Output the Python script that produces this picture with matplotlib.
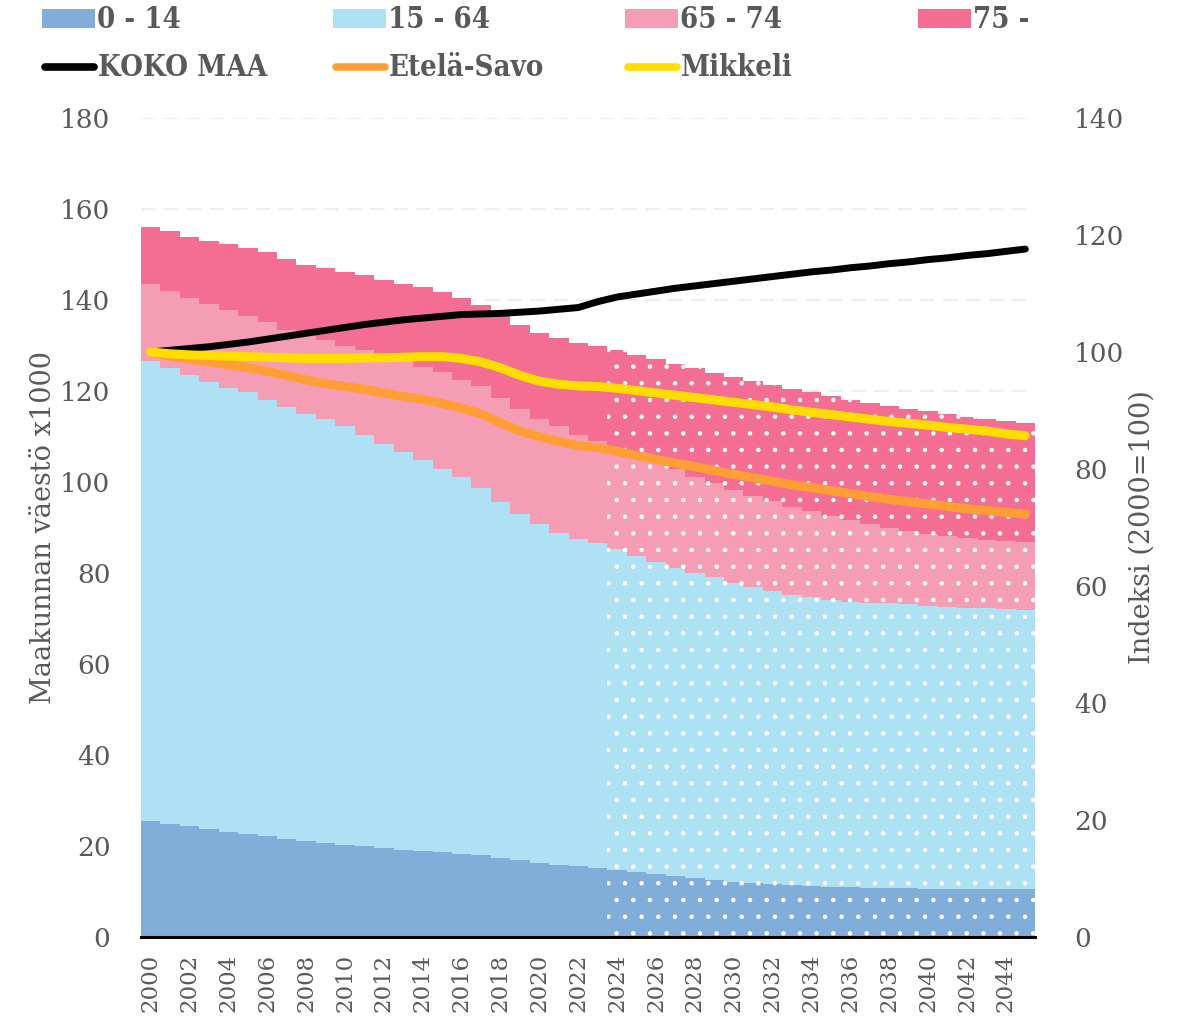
import numpy as np
import matplotlib
matplotlib.use("Agg")
import matplotlib.pyplot as plt
from matplotlib.patches import Rectangle
from matplotlib.lines import Line2D

# ---------------- data ----------------
years = list(range(2000, 2046))
first_forecast_year = 2024

age_groups = ["0 - 14", "15 - 64", "65 - 74", "75 -"]
age_0_14 = [25.5, 24.8, 24.3, 23.7, 23.1, 22.6, 22.2, 21.5, 21.1, 20.7, 20.2, 19.9, 19.5, 19.2, 18.9, 18.7,
            18.3, 18.0, 17.4, 16.9, 16.3, 15.8, 15.5, 15.2, 14.7, 14.3, 13.8, 13.5, 13.0, 12.5, 12.1, 11.8,
            11.6, 11.4, 11.1, 11.0, 10.9, 10.8, 10.7, 10.7, 10.6, 10.6, 10.5, 10.5, 10.5, 10.5]
age_15_64 = [101.1, 100.3, 99.2, 98.3, 97.5, 97.1, 95.8, 95.0, 93.9, 93.1, 92.0, 90.5, 88.9, 87.3, 85.9, 84.1,
             82.7, 80.6, 78.3, 76.1, 74.4, 73.1, 72.0, 71.3, 70.5, 69.5, 68.6, 67.7, 67.1, 66.6, 65.6, 65.1,
             64.4, 63.8, 63.6, 63.0, 62.8, 62.7, 62.6, 62.4, 62.2, 62.0, 61.9, 61.7, 61.5, 61.3]
age_65_74 = [16.9, 16.9, 16.9, 17.1, 17.2, 16.8, 17.2, 16.9, 17.3, 17.3, 17.7, 18.6, 19.5, 20.9, 20.5, 21.4,
             21.4, 22.4, 22.8, 23.0, 23.2, 23.4, 22.8, 22.6, 22.3, 22.7, 22.1, 21.6, 21.1, 20.7, 20.5, 20.0,
             19.8, 19.4, 18.9, 18.5, 17.9, 17.2, 16.6, 16.1, 15.8, 15.5, 15.3, 15.1, 15.0, 15.0]
age_75_plus = [12.6, 13.1, 13.5, 13.9, 14.4, 14.9, 15.3, 15.7, 15.5, 15.9, 16.2, 16.4, 16.4, 16.2, 17.5, 17.5,
               18.0, 17.9, 18.2, 18.4, 18.8, 19.3, 20.2, 20.8, 21.5, 21.5, 22.5, 23.1, 23.8, 24.2, 24.9, 25.3,
               25.5, 25.8, 26.1, 26.3, 26.5, 26.6, 26.8, 26.9, 26.9, 26.8, 26.6, 26.5, 26.4, 26.1]

index_names = ["KOKO MAA", "Etelä-Savo", "Mikkeli"]
koko_maa = [100.0, 100.3, 100.6, 100.9, 101.3, 101.7, 102.2, 102.7, 103.2, 103.7, 104.2, 104.7, 105.1, 105.5,
            105.8, 106.1, 106.4, 106.5, 106.6, 106.8, 107.0, 107.3, 107.6, 108.6, 109.4, 109.9, 110.4, 110.9,
            111.3, 111.7, 112.1, 112.5, 112.9, 113.3, 113.7, 114.0, 114.4, 114.7, 115.1, 115.4, 115.8, 116.1,
            116.5, 116.8, 117.2, 117.6]
etela_savo = [100.0, 99.3, 98.8, 98.3, 97.8, 97.3, 96.7, 96.0, 95.2, 94.6, 94.1, 93.6, 93.0, 92.4, 91.9, 91.2,
              90.4, 89.4, 87.9, 86.5, 85.5, 84.7, 84.0, 83.6, 83.0, 82.3, 81.6, 81.0, 80.4, 79.7, 79.1, 78.5,
              77.9, 77.3, 76.8, 76.3, 75.8, 75.3, 74.8, 74.4, 74.0, 73.6, 73.2, 72.9, 72.6, 72.3]
mikkeli = [100.0, 99.7, 99.5, 99.4, 99.3, 99.2, 99.1, 99.0, 98.9, 98.9, 98.9, 99.0, 99.0, 99.1, 99.2, 99.2,
           98.9, 98.3, 97.3, 96.0, 95.0, 94.5, 94.2, 94.1, 93.8, 93.4, 93.0, 92.6, 92.2, 91.8, 91.4, 91.0,
           90.6, 90.1, 89.7, 89.3, 88.9, 88.5, 88.1, 87.8, 87.5, 87.1, 86.8, 86.5, 86.0, 85.7]

left_ticks = list(range(0, 181, 20))
right_ticks = list(range(0, 141, 20))
x_tick_years = list(range(2000, 2045, 2))

# ---------------- style ----------------
W, H = 1186, 1017
area_colors = ["#80AED8", "#ADE1F3", "#F69DB6", "#F36E92"]
line_colors = ["#000000", "#FF9E35", "#FFDD00"]
line_widths = [5.0, 6.5, 6.5]
text_gray = "#595959"
serif = "DejaVu Serif"

plt.rcParams["hatch.color"] = "white"
plt.rcParams["hatch.linewidth"] = 0.8

fig = plt.figure(figsize=(W / 100, H / 100), dpi=100)
ax = fig.add_axes([141 / W, 1 - 937 / H, (1035 - 141) / W, (937 - 118) / H])

yrs = np.array(years, dtype=float)
layers = np.array([age_0_14, age_15_64, age_65_74, age_75_plus])
tops = np.cumsum(layers, axis=0)
bottoms = np.vstack([np.zeros(len(years)), tops[:-1]])
edges = np.append(yrs - 0.5, yrs[-1] + 0.5)
split = years.index(first_forecast_year)

for k in range(4):
    # observed part
    ax.stairs(tops[k][:split], edges[:split + 1], baseline=bottoms[k][:split],
              fill=True, color=area_colors[k], linewidth=0, zorder=2)
    # forecast part, dotted
    ax.stairs(tops[k][split:], edges[split:], baseline=bottoms[k][split:],
              fill=True, facecolor=area_colors[k], edgecolor="white",
              linewidth=0, hatch=".", zorder=2)

ax.set_xlim(yrs[0] - 0.5, yrs[-1] + 0.5)
ax.set_ylim(0, 180)
ax.set_yticks(left_ticks)
ax.set_xticks(x_tick_years)
ax.set_xticklabels([str(y) for y in x_tick_years], rotation=90)
ax.grid(axis="y", color="#EFEFEF", linestyle=(0, (7, 4)), linewidth=1.5, zorder=0)
ax.set_axisbelow(True)
for s in ["top", "right", "left"]:
    ax.spines[s].set_visible(False)
ax.spines["bottom"].set_linewidth(2.2)
ax.spines["bottom"].set_color("black")
ax.spines["bottom"].set_zorder(5)
ax.tick_params(axis="both", length=0, colors=text_gray)
ax.tick_params(axis="y", labelsize=19, pad=22)
ax.tick_params(axis="x", labelsize=16.5, pad=12)
for lab in ax.get_xticklabels() + ax.get_yticklabels():
    lab.set_family(serif)
ax.set_ylabel("Maakunnan väestö x1000", family=serif, fontsize=19.5, color=text_gray, labelpad=2)

ax2 = ax.twinx()
ax2.set_ylim(0, 140)
ax2.set_yticks(right_ticks)
for s in ax2.spines.values():
    s.set_visible(False)
ax2.tick_params(axis="y", length=0, colors=text_gray, labelsize=19, pad=28)
for lab in ax2.get_yticklabels():
    lab.set_family(serif)
ax2.set_ylabel("Indeksi (2000=100)", family=serif, fontsize=19.5, color=text_gray, labelpad=3)

series = [koko_maa, etela_savo, mikkeli]
for vals, c, lw, z in zip(series, line_colors, line_widths, [3, 4, 5]):
    ax2.plot(yrs, vals, color=c, linewidth=lw, solid_capstyle="round", zorder=z)


# ---------------- legend (manual, figure pixels) ----------------
def fx(px):
    return px / W


def fy(py):
    return 1 - py / H


col_x = [42, 333, 625, 918]
legend_font = dict(family=serif, fontsize=21, fontweight="bold", color=text_gray,
                   fontstretch="condensed", va="center", ha="left")
for k in range(4):
    fig.add_artist(Rectangle((fx(col_x[k]), fy(28)), 53 / W, 19 / H, transform=fig.transFigure,
                             facecolor=area_colors[k], edgecolor="none"))
    fig.text(fx(col_x[k] + 55), fy(19), age_groups[k], **legend_font)
for k in range(3):
    fig.add_artist(Line2D([fx(col_x[k] + 3), fx(col_x[k] + 52)], [fy(67), fy(67)], transform=fig.transFigure,
                          color=line_colors[k], linewidth=5.5, solid_capstyle="round"))
    fig.text(fx(col_x[k] + 56), fy(67), index_names[k], **legend_font)

fig.savefig("out.png", dpi=100)
